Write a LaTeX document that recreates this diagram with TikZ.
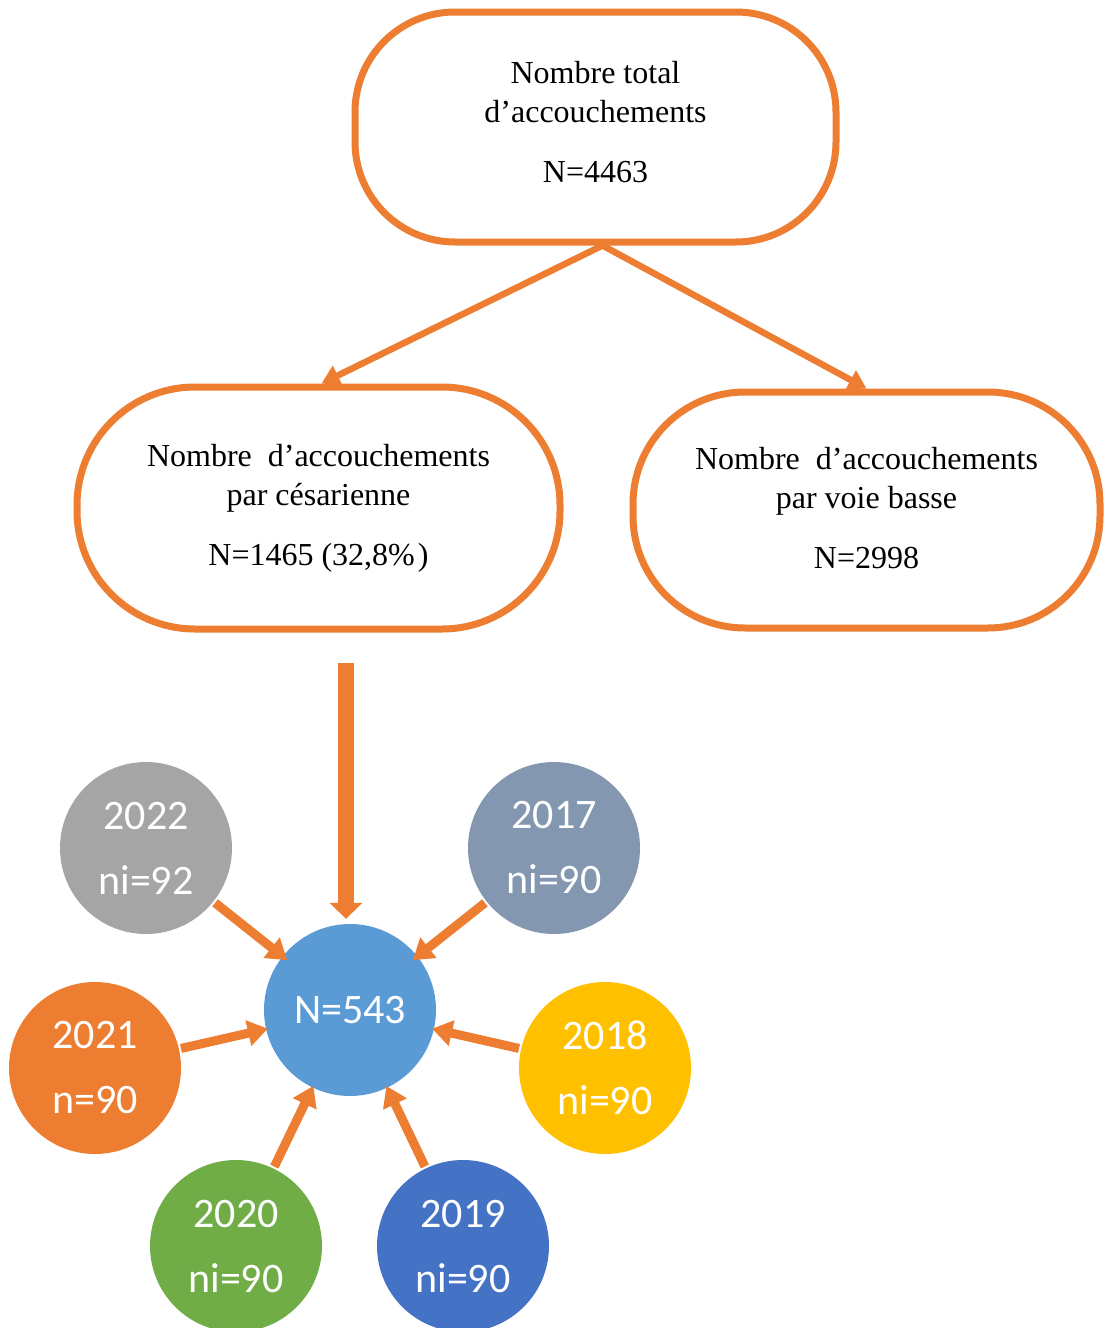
\documentclass[tikz,border=0pt]{standalone}
\usepackage{fontspec}
\setmainfont{Liberation Serif}
\newfontfamily\calib{Carlito}
\usetikzlibrary{arrows.meta,calc}
\definecolor{orng}{HTML}{ED7D31}
\definecolor{cgray}{HTML}{A5A5A5}
\definecolor{cslate}{HTML}{8497B0}
\definecolor{cyell}{HTML}{FFC000}
\definecolor{cgreen}{HTML}{70AD47}
\definecolor{cblue}{HTML}{4472C4}
\definecolor{cmid}{HTML}{5B9BD5}
\tikzset{
  boxnode/.style={draw=orng, line width=7pt, align=center, inner sep=0pt,
    font=\fontsize{32}{39}\selectfont},
  yearnode/.style={circle, minimum size=172pt, inner sep=0pt, text=white,
    align=center, font=\calib\fontsize{42}{65}\selectfont},
  thinarrow/.style={draw=orng, line width=6.5pt, -{Triangle[width=21pt,length=18pt]}},
  satarrow/.style={draw=orng, line width=9pt, -{Triangle[width=25pt,length=20pt]}},
  bigarrow/.style={draw=orng, line width=16pt, -{Triangle[width=32pt,length=16pt]}}
}
\begin{document}
\begin{tikzpicture}[x=1pt,y=-1pt]
\useasboundingbox (0,0) rectangle (1104,1328);
% boxes
\node[boxnode, minimum width=481pt, minimum height=230pt, rounded corners=100pt] (top) at (595.5,127)
  {Nombre total\\d’accouchements\\[21pt]N=4463\\[-29pt]\mbox{}};
\node[boxnode, minimum width=483pt, minimum height=242pt, rounded corners=118pt] (left) at (318.5,508)
  {Nombre\ \ d’accouchements\\par césarienne\\[21pt]N=1465 (32,8\%\kern3pt)};
\node[boxnode, minimum width=467pt, minimum height=236pt, rounded corners=112pt] (right) at (866.5,510)
  {Nombre\ \ d’accouchements\\par voie basse\\[21pt]N=2998\\[-35pt]\mbox{}};
% arrows from top
\draw[thinarrow] ([xshift=7pt]top.south) -- ([xshift=3pt]left.north);
\draw[thinarrow] ([xshift=7pt]top.south) -- (right.north);
% circles
\node[yearnode, fill=cmid] (c) at (350,1010) {N=543};
\node[yearnode, fill=cgray] (y22) at (146,848) {2022\\ni=92};
\node[yearnode, fill=cslate] (y17) at (554,848) {2017\\ni=90};
\node[yearnode, fill=orng] (y21) at (95,1068) {2021\\n=90};
\node[yearnode, fill=cyell] (y18) at (605,1068) {2018\\ni=90};
\node[yearnode, fill=cgreen] (y20) at (236,1246) {2020\\ni=90};
\node[yearnode, fill=cblue] (y19) at (463,1246) {2019\\ni=90};
% vertical arrow
\coordinate (vstart) at (346,663);
\draw[bigarrow] (vstart) -- ($(vstart |- c.north)+(0,-5)$);
% satellite arrows
\draw[satarrow, shorten >=-6pt, shorten <=2pt] (y22) -- (c);
\draw[satarrow, shorten >=-6pt, shorten <=2pt] (y17) -- (c);
\draw[satarrow, shorten >=-2pt, shorten <=2pt] (y21) -- (c);
\draw[satarrow, shorten >=-2pt, shorten <=2pt] (y18) -- (c);
\draw[satarrow, shorten >=-2pt, shorten <=2pt] (y20) -- (c);
\draw[satarrow, shorten >=-2pt, shorten <=2pt] (y19) -- (c);
\end{tikzpicture}
\end{document}
